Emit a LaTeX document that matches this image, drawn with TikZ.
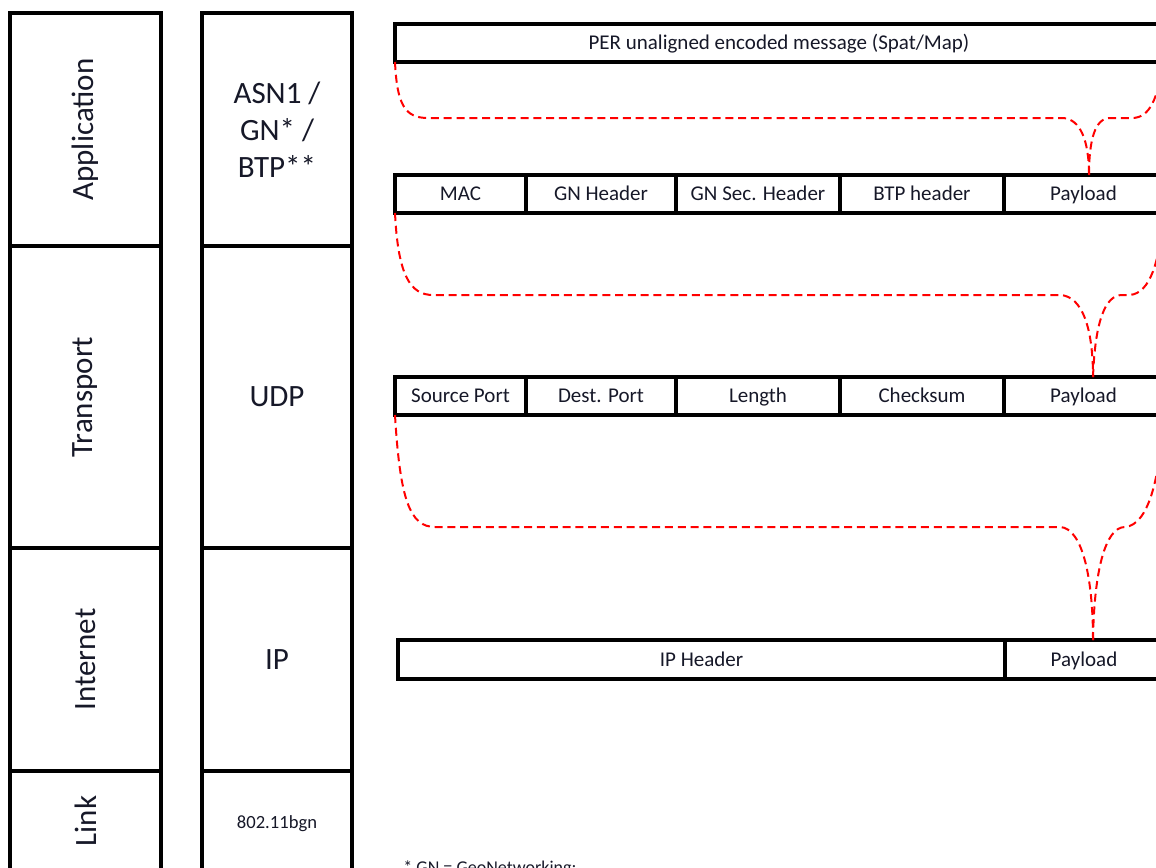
\documentclass[tikz,border=0pt]{standalone}
\usepackage{fontspec}
\setmainfont{Carlito}
\usetikzlibrary{fit}
\definecolor{ink}{RGB}{22,24,40}
\tikzset{
  layer/.style={draw, line width=2pt, inner sep=0pt, outer sep=0pt},
  cell/.style={draw, line width=1.6pt, inner sep=0pt, outer sep=0pt},
  outline/.style={line width=2pt},
  big/.style={font=\fontsize{15.5}{18.5}\selectfont, align=center, inner sep=0pt, text=ink},
  lbl/.style={font=\fontsize{10.5}{12}\selectfont, inner sep=0pt, text height=6.8pt, text depth=0pt, text=ink},
  tiny/.style={font=\fontsize{9.3}{11}\selectfont, inner sep=0pt, text height=6pt, text depth=0pt, text=ink},
  brace/.style={red, line width=1pt, dash pattern=on 4pt off 2.4pt},
}
\begin{document}
\begin{tikzpicture}[x=0.5pt,y=-0.5pt]
\useasboundingbox (0,0) rectangle (1156,867);
\clip (0,0) rectangle (1156,867);

% ---- layer column 1
\node[layer, fit={(10,13) (161,246)}] (app) {};
\node[layer, fit={(10,246) (161,548)}] (tra) {};
\node[layer, fit={(10,548) (161,771)}] (int) {};
\node[layer, fit={(10,771) (161,930)}] (lnk) {};
\node[big, rotate=90] (tapp) at (app.center) {Application};
\node[big, rotate=90] (ttra) at (tra.center) {Transport};
\node[big, rotate=90] (tint) at (int.center) {Internet};
\node[big, rotate=90] (tlnk) at (86,821) {Link};

% ---- layer column 2
\node[layer, fit={(202,13) (352,246)}] (asn) {};
\node[layer, fit={(202,246) (352,548)}] (udp) {};
\node[layer, fit={(202,548) (352,771)}] (ipl) {};
\node[layer, fit={(202,771) (352,930)}] (wif) {};
\node[big] (tasn) at (277,130) {ASN1 /\\GN* /\\BTP**};
\node[big] (tudp) at (udp.center) {UDP};
\node[big] (tipl) at (ipl.center) {IP};
\node[tiny] (twif) at (277,822) {802.11bgn};

% ---- row 1
\node[layer, fit={(395,24) (1163,62)}] (per) {};
\node[lbl] (tper) at (per.center) {PER unaligned encoded message (Spat/Map)};

% ---- row 2
\node[cell, fit={(395,175) (526,213)}] (mac) {};
\node[cell, fit={(526,175) (676,213)}] (gnh) {};
\node[cell, fit={(676,175) (840,213)}] (gns) {};
\node[cell, fit={(840,175) (1004,213)}] (btp) {};
\node[cell, fit={(1004,175) (1163,213)}] (plb) {};
\draw[outline] (mac.north west) rectangle (plb.south east);
\node[lbl] (tmac) at (mac.center) {MAC};
\node[lbl] (tgnh) at (gnh.center) {GN Header};
\node[lbl] (tgns) at (gns.center) {GN Sec. Header};
\node[lbl] (tbtp) at (btp.center) {BTP header};
\node[lbl] (tplb) at (plb.center) {Payload};

% ---- row 3
\node[cell, fit={(395,377) (526,415)}] (src) {};
\node[cell, fit={(526,377) (676,415)}] (dst) {};
\node[cell, fit={(676,377) (840,415)}] (len) {};
\node[cell, fit={(840,377) (1004,415)}] (chk) {};
\node[cell, fit={(1004,377) (1163,415)}] (plu) {};
\draw[outline] (src.north west) rectangle (plu.south east);
\node[lbl] (tsrc) at (src.center) {Source Port};
\node[lbl] (tdst) at (dst.center) {Dest. Port};
\node[lbl] (tlen) at (len.center) {Length};
\node[lbl] (tchk) at (chk.center) {Checksum};
\node[lbl] (tplu) at (plu.center) {Payload};

% ---- row 4
\node[cell, fit={(398,640) (1005,679)}] (iph) {};
\node[cell, fit={(1005,640) (1163,679)}] (pli) {};
\draw[outline] (iph.north west) rectangle (pli.south east);
\node[lbl] (tiph) at (iph.center) {IP Header};
\node[lbl] (tpli) at (pli.center) {Payload};

% ---- brace tips
\coordinate (t1) at (1089,175);
\coordinate (t2) at (1093,377);
\coordinate (t3) at (1093,640);

% ---- braces
\draw[brace] (per.south west) .. controls (397,105) and (405,118) .. (428,118)
  -- (1063,118) .. controls (1080,119) and (1089,140) .. (t1);
\draw[brace] (t1) .. controls (1089,140) and (1095,118) .. (1110,118)
  -- (1132,118) .. controls (1150,118) and (1158,98) .. (per.south east);

\draw[brace] (mac.south west) .. controls (398,275) and (410,295) .. (433,295)
  -- (1060,295) .. controls (1083,296) and (1093,330) .. (t2);
\draw[brace] (t2) .. controls (1095,322) and (1105,295) .. (1122,295)
  -- (1130,295) .. controls (1150,293) and (1160,262) .. (plb.south east);

\draw[brace] (src.south west) .. controls (400,500) and (410,527) .. (435,527)
  -- (1060,527) .. controls (1083,528) and (1093,580) .. (t3);
\draw[brace] (t3) .. controls (1094,572) and (1105,527) .. (1125,527)
  .. controls (1148,525) and (1160,480) .. (plu.south east);

% ---- footnote (cut by the frame, as in the reference)
\node[anchor=base west, font=\fontsize{9}{11}\selectfont, inner sep=0pt, text=ink] (fn) at (403,873) {* GN = GeoNetworking;};
\end{tikzpicture}
\end{document}
